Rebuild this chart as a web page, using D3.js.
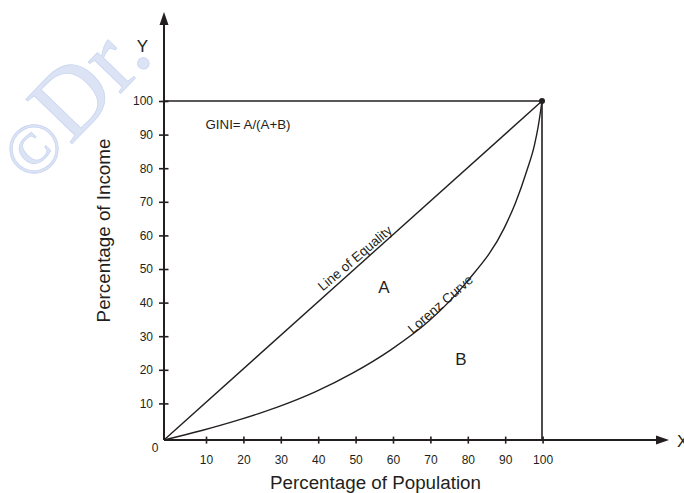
<!DOCTYPE html>
<html>
<head>
<meta charset="utf-8">
<script src="https://cdn.jsdelivr.net/npm/d3@7"></script>
<style>
  html, body { margin: 0; padding: 0; background: #fff; }
  svg { display: block; font-family: "Liberation Sans", Arial, sans-serif; }
</style>
</head>
<body>
<svg id="chart" width="684" height="493"></svg>
<script>
// ---- data ----
const xTicks = [10, 20, 30, 40, 50, 60, 70, 80, 90, 100];
const yTicks = [10, 20, 30, 40, 50, 60, 70, 80, 90, 100];
const equalityX = [0, 100];
const equalityY = [0, 100];
const lorenzX = [0, 10, 20, 30, 40, 50, 60, 70, 80, 90, 93, 96, 98, 99, 100];
const lorenzY = [0, 2.8, 6, 9.7, 14.2, 19.8, 26.6, 35, 46.5, 62.5, 70, 79.5, 87, 92.5, 100];
const labels = {
  y: "Y", x: "X", xTitle: "Percentage of Population", yTitle: "Percentage of Income",
  gini: "GINI= A/(A+B)", equality: "Line of Equality", lorenz: "Lorenz Curve",
  a: "A", b: "B", zero: "0", copyright: "\u00A9", watermark: "Dr."
};

const ink = "#231f20";
const svg = d3.select("#chart");

// scales for plotted marks
const x = d3.scaleLinear().domain([0, 100]).range([164, 542]);
const y = d3.scaleLinear().domain([0, 100]).range([440, 101]);
// scales for tick marks (drawn slightly offset in the original)
const xt = d3.scaleLinear().domain([0, 100]).range([168.6, 542.6]);
const yt = d3.scaleLinear().domain([0, 100]).range([437, 101]);

// watermark
const wm = svg.append("text")
  .attr("transform", "translate(32,185) rotate(-46)")
  .attr("font-family", "'Liberation Serif', 'DejaVu Serif', serif")
  .attr("fill", "#dbe3f5")
  .attr("stroke", "#cbd7f0")
  .attr("stroke-width", 0.8);
wm.append("tspan").attr("font-size", 72).text(labels.copyright);
wm.append("tspan").attr("font-size", 98).text(labels.watermark);

// axes lines
svg.append("line").attr("x1", x(0)).attr("x2", x(0)).attr("y1", y(0)).attr("y2", 22)
  .attr("stroke", ink).attr("stroke-width", 2);
svg.append("path").attr("d", `M${x(0)},12 L${x(0) - 4.5},25 L${x(0) + 4.5},25 Z`).attr("fill", ink);
svg.append("line").attr("x1", x(0)).attr("x2", 660).attr("y1", y(0)).attr("y2", y(0))
  .attr("stroke", ink).attr("stroke-width", 2);
svg.append("path").attr("d", `M669,${y(0)} L656,${y(0) - 4.5} L656,${y(0) + 4.5} Z`).attr("fill", ink);

// x axis ticks
const gx = svg.append("g").attr("transform", "translate(0,436.6)")
  .call(d3.axisBottom(xt).tickValues(xTicks).tickSize(7).tickPadding(11.5));
gx.select(".domain").remove();
gx.selectAll(".tick line").attr("stroke", ink).attr("stroke-width", 1.6);
gx.selectAll(".tick text").attr("font-size", 12).attr("fill", ink)
  .attr("font-family", "'Liberation Sans', Arial, sans-serif");

// y axis ticks
const gy = svg.append("g").attr("transform", "translate(168.5,0)")
  .call(d3.axisLeft(yt).tickValues(yTicks).tickSize(9.5).tickPadding(6));
gy.select(".domain").remove();
gy.selectAll(".tick line").attr("stroke", ink).attr("stroke-width", 1.6);
gy.selectAll(".tick text").attr("font-size", 12).attr("fill", ink)
  .attr("font-family", "'Liberation Sans', Arial, sans-serif");

svg.append("text").attr("x", 155).attr("y", 451.5).attr("text-anchor", "middle")
  .attr("font-size", 12).attr("fill", ink).text(labels.zero);

// box lines at 100
svg.append("line").attr("x1", x(0)).attr("x2", x(100)).attr("y1", y(100)).attr("y2", y(100))
  .attr("stroke", ink).attr("stroke-width", 1.6);
svg.append("line").attr("x1", x(100)).attr("x2", x(100)).attr("y1", y(100)).attr("y2", y(0))
  .attr("stroke", ink).attr("stroke-width", 1.6);

// line of equality
const eqData = equalityX.map((v, i) => [v, equalityY[i]]);
svg.append("path").datum(eqData)
  .attr("d", d3.line().x(d => x(d[0])).y(d => y(d[1])))
  .attr("fill", "none").attr("stroke", ink).attr("stroke-width", 1.4);

// lorenz curve
const lzData = lorenzX.map((v, i) => [v, lorenzY[i]]);
svg.append("path").datum(lzData)
  .attr("d", d3.line().x(d => x(d[0])).y(d => y(d[1])).curve(d3.curveMonotoneX))
  .attr("fill", "none").attr("stroke", ink).attr("stroke-width", 1.4);

svg.append("circle").attr("cx", x(100)).attr("cy", y(100)).attr("r", 3).attr("fill", ink);

// labels
const ang = Math.atan2(y(100) - y(0), x(100) - x(0)) * 180 / Math.PI;
svg.append("text")
  .attr("transform", `translate(${x(42)},${y(42) - 6}) rotate(${ang + 1.5})`)
  .attr("font-size", 13.5).attr("fill", ink).text(labels.equality);
svg.append("text")
  .attr("transform", `translate(${x(65.8)},${y(31.8) + 2}) rotate(${ang + 1})`)
  .attr("font-size", 13.5).attr("fill", ink).text(labels.lorenz);

svg.append("text").attr("x", 384).attr("y", 293).attr("text-anchor", "middle")
  .attr("font-size", 17).attr("fill", ink).text(labels.a);
svg.append("text").attr("x", 461).attr("y", 365).attr("text-anchor", "middle")
  .attr("font-size", 17).attr("fill", ink).text(labels.b);

svg.append("text").attr("x", 205.5).attr("y", 128.5)
  .attr("font-size", 13.3).attr("fill", ink).text(labels.gini);

svg.append("text").attr("x", 142.5).attr("y", 52).attr("text-anchor", "middle")
  .attr("font-size", 17).attr("fill", ink).text(labels.y);
svg.append("text").attr("x", 677).attr("y", 446.5)
  .attr("font-size", 17).attr("fill", ink).text(labels.x);

svg.append("text").attr("x", 375.5).attr("y", 489).attr("text-anchor", "middle")
  .attr("font-size", 18.8).attr("fill", ink).text(labels.xTitle);
svg.append("text")
  .attr("transform", "translate(110,230.5) rotate(-90)")
  .attr("text-anchor", "middle")
  .attr("font-size", 18.8).attr("fill", ink).text(labels.yTitle);
</script>
</body>
</html>
